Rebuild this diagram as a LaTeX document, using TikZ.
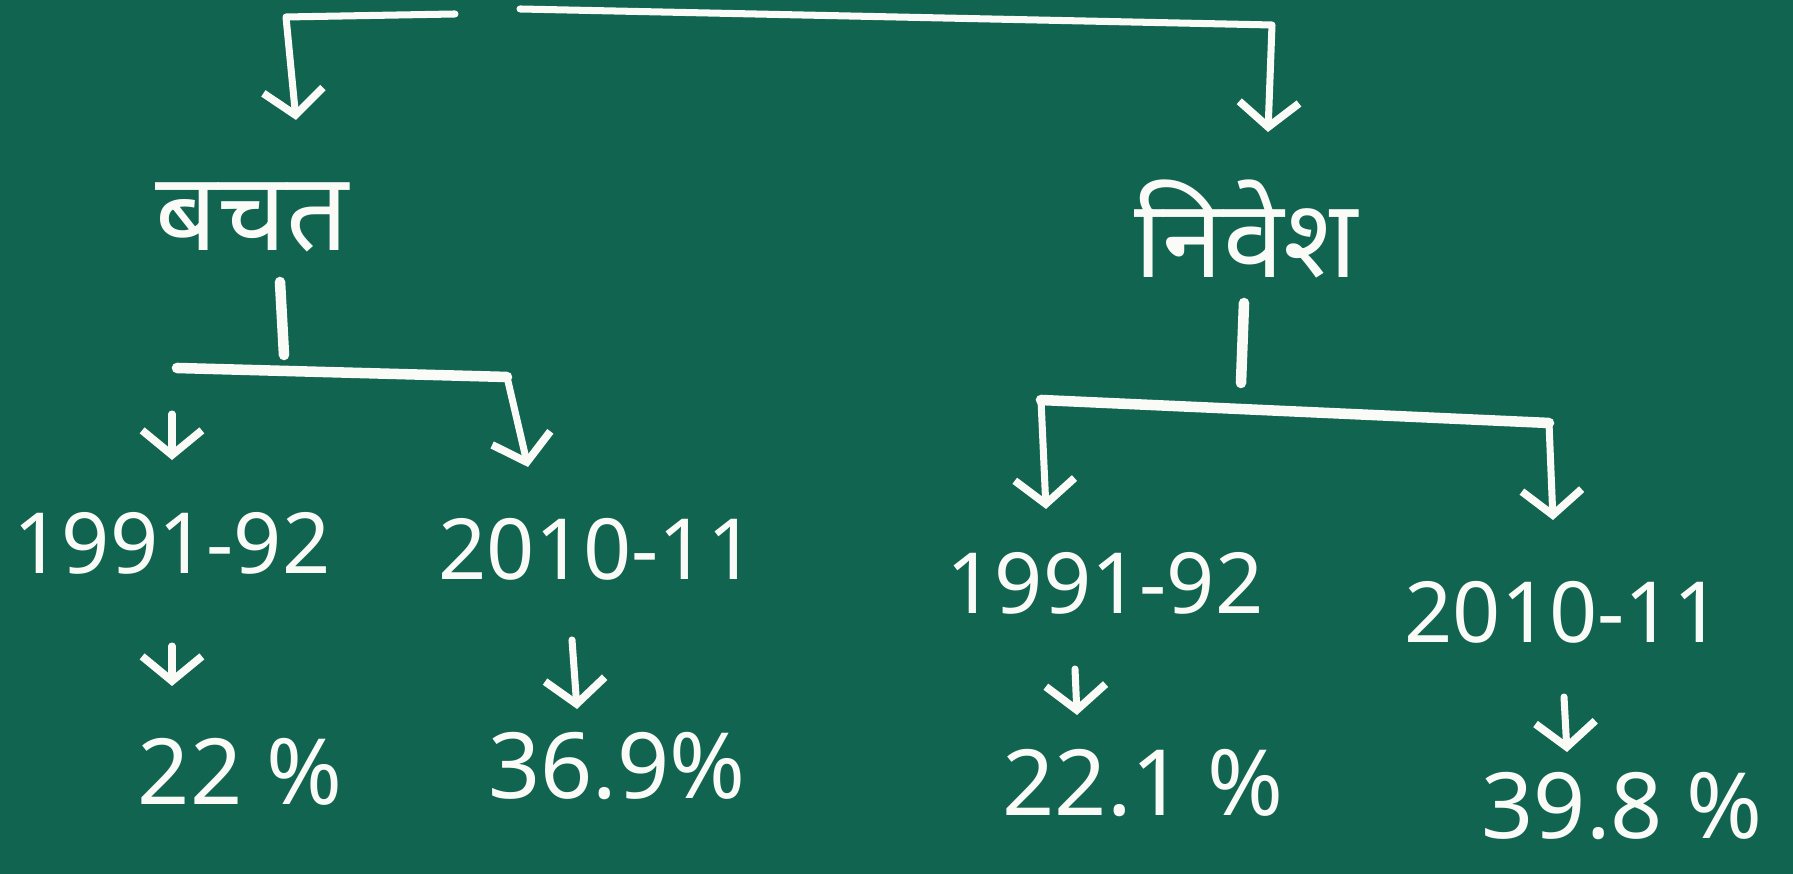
\documentclass[tikz,border=0pt]{standalone}
\usepackage{fontspec}
\setmainfont{Noto Sans}
\newfontfamily\hindi[Script=Devanagari]{Noto Sans}
\usetikzlibrary{arrows.meta}
\definecolor{board}{RGB}{16,100,80}
\definecolor{chalk}{RGB}{250,250,247}
\tikzset{
  chalk line/.style={draw=chalk, line width=3pt, line cap=round, line join=round},
  chalk arrow/.style={chalk line, line width=2pt, -{Straight Barb[length=7pt,width=17pt,line width=2.2pt]}},
  word/.style={text=chalk, font=\hindi\fontsize{31}{36}\selectfont, inner sep=2pt},
  figure/.style={text=chalk, font=\fontsize{24}{30}\selectfont, inner sep=2pt},
}
\begin{document}
\begin{tikzpicture}[x=0.01cm,y=-0.01cm]
  \fill[board] (0,0) rectangle (1793,874);
  \useasboundingbox (0,0) rectangle (1793,874);

  % heads
  \node[word] (bachat) at (252,217) {बचत};
  \node[word] (nivesh) at (1246,229) {निवेश};

  % years and shares
  \node[figure] (sy1) at (172,543) {1991-92};
  \node[figure] (sy2) at (597,549) {2010-11};
  \node[figure] (iy1) at (1105,583) {1991-92};
  \node[figure] (iy2) at (1563,612) {2010-11};
  \node[figure, font=\fontsize{26}{30}\selectfont] (sv1) at (240,772) {22 \%};
  \node[figure, font=\fontsize{26}{30}\selectfont] (sv2) at (617,766) {36.9\%};
  \node[figure, font=\fontsize{26}{30}\selectfont] (iv1) at (1143,783) {22.1 \%};
  \node[figure, font=\fontsize{26}{30}\selectfont] (iv2) at (1622,806) {39.8 \%};

  % top bracket
  \coordinate (topL) at (455,14);
  \coordinate (topR) at (520,9);
  \coordinate (cornL) at (286,17);
  \coordinate (cornR) at (1272,25);
  \draw[chalk arrow] (topL) -- (cornL) -- (296,120);
  \draw[chalk arrow] (topR) -- (cornR) -- (1268,132);

  % savings branch
  \coordinate (sbarL) at (177,368);
  \coordinate (sbarR) at (507,377);
  \draw[chalk line] (280,282) -- (284,355);
  \draw[chalk line] (sbarL) -- (sbarR);
  \draw[chalk arrow] (sbarR) -- (528,467);
  \draw[chalk arrow] (172,414) -- (172,460);
  \draw[chalk arrow] (172,646) -- (172,686);
  \draw[chalk arrow] (572,640) -- (577,709);

  % investment branch
  \coordinate (ibarL) at (1041,400);
  \coordinate (ibarR) at (1549,423);
  \draw[chalk line] (1244,303) -- (1241,383);
  \draw[chalk line] (ibarL) -- (ibarR);
  \draw[chalk arrow] (ibarL) -- (1046,509);
  \draw[chalk arrow] (ibarR) -- (1553,520);
  \draw[chalk arrow] (1075,669) -- (1077,715);
  \draw[chalk arrow] (1564,697) -- (1567,752);
\end{tikzpicture}
\end{document}
